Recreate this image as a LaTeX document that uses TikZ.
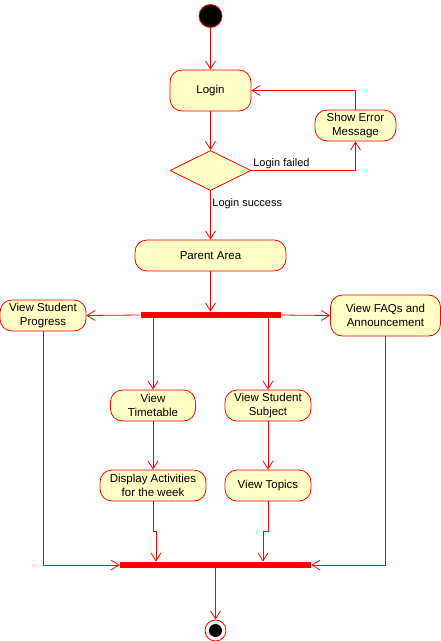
\documentclass[tikz,border=0pt]{standalone}
\usepackage{xcolor}
\usepackage{fontspec}
\setmainfont{Liberation Sans}
\usepackage{tikz}
\usetikzlibrary{arrows.meta,shapes.geometric}
\definecolor{actyellow}{HTML}{FFFFC6}

\begin{document}
\begin{tikzpicture}[x=1pt,y=-1pt,thick,
		font=\fontsize{11.5}{13.3}\selectfont,
		act/.style={draw=red, fill=actyellow, rounded corners=12pt, align=center, inner sep=0pt},
		bar/.style={fill=red, draw=none, minimum height=6pt, inner sep=0pt},
		flow/.style={draw=red, -{Straight Barb[length=8pt,width=10pt]}},
		guard/.style={font=\fontsize{11}{13}\selectfont, inner sep=1.5pt}]
			\useasboundingbox (0,0) rectangle (441,641);
			\node[circle, fill=black, draw=red, minimum size=23pt, inner sep=0pt] at (210.5,16) (start){};
			\node[act, minimum width=81pt, minimum height=41pt] at (210.5,90.5) (login){Login};
			\node[act, minimum width=81pt, minimum height=31pt] at (355.5,125.5) (err){Show Error\\Message};
			\node[diamond, draw=red, fill=actyellow, minimum width=81pt, minimum height=40pt, inner sep=0pt] at (210.5,170.5) (dec){};
			\node[act, minimum width=151pt, minimum height=31pt] at (210.5,255.5) (parent){Parent Area};
			\node[bar, minimum width=140pt] at (210.5,315) (fork){};
			\node[act, minimum width=86pt, minimum height=31pt] at (43,315.5) (prog){View Student\\Progress};
			\node[act, minimum width=110pt, minimum height=41pt] at (385.5,315.5) (faq){View FAQs and\\Announcement};
			\node[act, minimum width=85pt, minimum height=31pt] at (153,405.5) (tt){View\\Timetable};
			\node[act, minimum width=86pt, minimum height=31pt] at (268,405.5) (subj){View Student\\Subject};
			\node[act, minimum width=106pt, minimum height=31pt] at (153,485.5) (disp){Display Activities\\for the week};
			\node[act, minimum width=86pt, minimum height=31pt] at (268,485.5) (topics){View Topics};
			\node[bar, minimum width=191pt] at (215.5,565) (join){};
			\node[circle, draw=red, fill=white, minimum size=21pt, inner sep=0pt] at (215.5,630.5) (stop){};
			\node[circle, fill=black, minimum size=13pt, inner sep=0pt] at (stop) (stopdot){};
			\draw[flow] (start) -- (login);
			\draw[flow] (login) -- (dec);
			\draw[flow] (dec.east) -| (err.south) node[guard, pos=0, anchor=south west]{Login failed};
			\draw[flow] (err.north) |- (login.east);
			\draw[flow] (dec.south) -- (parent.north) node[guard, pos=0.26, anchor=west]{Login success};
			\draw[flow] (parent) -- (fork);
			\draw[flow] (fork.west) -- (prog.east);
			\draw[flow] (fork.east) -- (faq.west);
			\draw[flow] (fork.south -| tt.north) -- (tt.north);
			\draw[flow] (fork.south -| subj.north) -- (subj.north);
			\draw[flow] (tt) -- (disp);
			\draw[flow] (subj) -- (topics);
			\draw[flow] (disp.south) -- ++(0,29.5) -- ++(3,0) coordinate (jl) -- (jl |- join.north);
			\draw[flow] (topics.south) -- ++(0,29.5) -- ++(-5,0) coordinate (jr) -- (jr |- join.north);
			\draw[flow] (prog.south) |- (join.west);
			\draw[flow] (faq.south) |- (join.east);
			\draw[flow] (join) -- (stop);
		\end{tikzpicture}
\end{document}
